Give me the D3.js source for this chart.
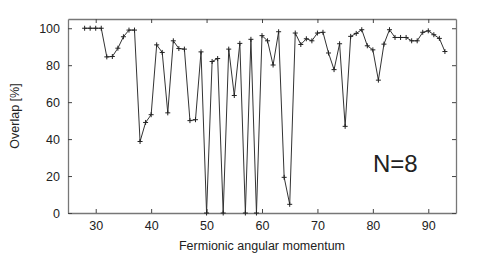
<!DOCTYPE html>
<html>
<head>
<meta charset="utf-8">
<script src="https://cdn.jsdelivr.net/npm/d3@7"></script>
<style>
  body { margin: 0; background: #fff; }
  svg text { font-family: "Liberation Sans", Arial, sans-serif; fill: #222; }
</style>
</head>
<body>
<svg id="chart" width="480" height="253"></svg>
<script>
// angular momentum values (x) and overlap in percent (y)
var momentum = [28, 29, 30, 31, 32, 33, 34, 35, 36, 37, 38, 39, 40, 41, 42, 43, 44, 45, 46, 47,
    48, 49, 50, 51, 52, 53, 54, 55, 56, 57, 58, 59, 60, 61, 62, 63, 64, 65, 66, 67,
    68, 69, 70, 71, 72, 73, 74, 75, 76, 77, 78, 79, 80, 81, 82, 83, 84, 85, 86, 87,
    88, 89, 90, 91, 92, 93];
var overlap = [100, 100, 100, 100, 84.5, 84.7, 89.2, 95.4, 99, 99, 38.7, 49, 53.2, 91, 86.9, 54.2, 93.2, 89, 88.7, 50,
    50.5, 87.2, 0, 82, 83.6, 0, 88.7, 63.6, 91.8, 0, 94, 0, 96, 93.2, 80.1, 98.1, 19.3, 4.7, 97.4, 91.2,
    94.3, 93.2, 97.4, 97.8, 86.6, 77.6, 91.6, 46.9, 95.6, 97.2, 99.2, 90.5, 88.3, 71.9, 91.4, 99.2, 95, 95, 95, 93.2,
    93.2, 97.8, 98.6, 96.5, 94.5, 87.4];
var xTicks = [30, 40, 50, 60, 70, 80, 90];
var yTicks = [0, 20, 40, 60, 80, 100];

var svg = d3.select("#chart");
var margin = {top: 19, right: 24, bottom: 40, left: 68};
var width = 480 - margin.left - margin.right;
var height = 253 - margin.top - margin.bottom;

var g = svg.append("g")
    .attr("transform", "translate(" + margin.left + "," + margin.top + ")");

var x = d3.scaleLinear().domain([25, 95]).range([0, width]);
var y = d3.scaleLinear().domain([0, 105]).range([height, 0]);

var frameColor = "#777";

//axes with inward ticks, mirrored on top and right
var axBottom = g.append("g").attr("transform", "translate(0," + height + ")")
    .call(d3.axisBottom(x).tickValues(xTicks).tickSizeInner(-4).tickSizeOuter(0).tickPadding(8));
var axTop = g.append("g")
    .call(d3.axisTop(x).tickValues(xTicks).tickSizeInner(-4).tickSizeOuter(0).tickFormat(""));
var axLeft = g.append("g")
    .call(d3.axisLeft(y).tickValues(yTicks).tickSizeInner(-4).tickSizeOuter(0).tickPadding(8));
var axRight = g.append("g").attr("transform", "translate(" + width + ",0)")
    .call(d3.axisRight(y).tickValues(yTicks).tickSizeInner(-4).tickSizeOuter(0).tickFormat(""));

[axBottom, axTop, axLeft, axRight].forEach(function (a) {
    a.select(".domain").attr("stroke", frameColor).attr("stroke-width", 1.3);
    a.selectAll(".tick line").attr("stroke", "#444");
    a.selectAll("text").attr("font-size", 12.5).attr("fill", "#222")
        .attr("font-family", "'Liberation Sans', Arial, sans-serif");
});

//data line
var line = d3.line()
    .x(function (d, i) { return x(momentum[i]); })
    .y(function (d) { return y(d); });

g.append("path")
    .datum(overlap)
    .attr("fill", "none")
    .attr("stroke", "#333")
    .attr("stroke-width", 1)
    .attr("d", line);

//plus markers
var s = 2.5;
g.selectAll(".pt")
    .data(overlap)
    .enter()
    .append("path")
    .attr("class", "pt")
    .attr("transform", function (d, i) {
        return "translate(" + x(momentum[i]) + "," + y(d) + ")";
    })
    .attr("d", "M" + (-s) + ",0H" + s + "M0," + (-s) + "V" + s)
    .attr("stroke", "#222")
    .attr("stroke-width", 1)
    .attr("fill", "none");

//labels
svg.append("text")
    .attr("x", margin.left + width / 2)
    .attr("y", 250)
    .attr("text-anchor", "middle")
    .attr("font-size", 12.5)
    .text("Fermionic angular momentum");

svg.append("text")
    .attr("transform", "translate(19," + (margin.top + height / 2) + ") rotate(-90)")
    .attr("text-anchor", "middle")
    .attr("font-size", 12.5)
    .text("Overlap [%]");

svg.append("text")
    .attr("x", 373)
    .attr("y", 172)
    .attr("font-size", 24)
    .attr("fill", "#111")
    .text("N=8");
</script>
</body>
</html>
